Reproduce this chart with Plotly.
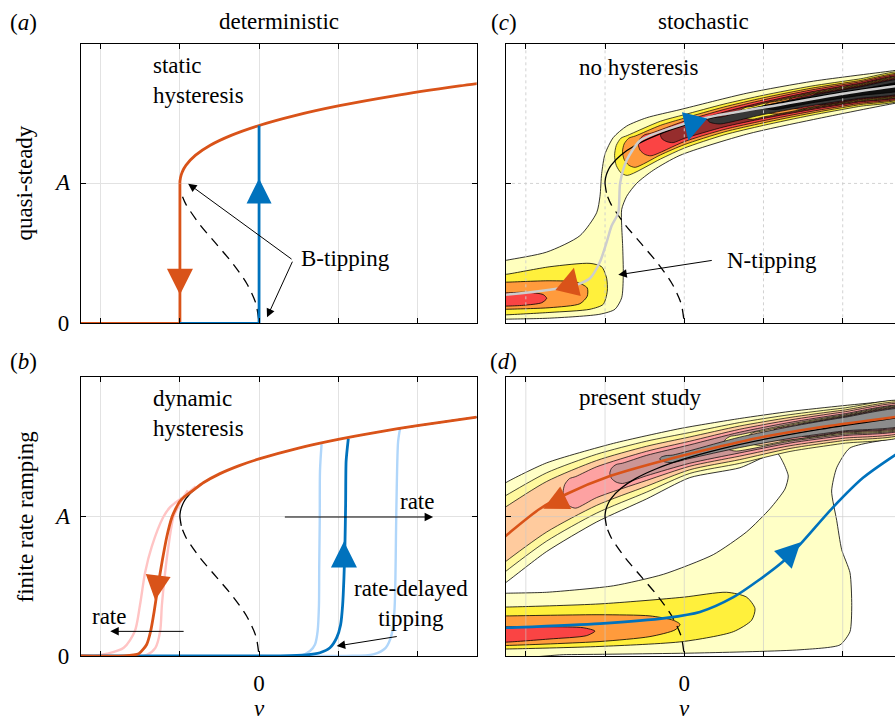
import numpy as np
import plotly.graph_objects as go

FONT = "Liberation Serif"
FS = 23
ORANGE = "#D95319"
BLUE = "#0072BD"
PINK = "rgb(255,196,196)"
LBLUE = "rgb(176,214,250)"
PATHGREY = "rgb(205,205,205)"

# ---------------- axes / ticks ----------------
X_LEFT = [-2.25, 2.75]
X_RIGHT = [-2.25, 2.66]
Y_RANGE = [0, 1.4142]
grid_v = [-2, -1, 0, 1, 2]
A_tick = 0.707

stable_A = [0.66, 0.707, 0.72, 0.75, 0.78, 0.8, 0.85, 0.9, 0.95, 1.0, 1.05, 1.1, 1.15, 1.2, 1.212]
stable_v = [-0.983, -1.0, -0.999, -0.984, -0.953, -0.922, -0.802, -0.616, -0.352, 0.0, 0.452, 1.016, 1.706, 2.534, 2.756]
unstable_A = [0.64, 0.6, 0.5, 0.4, 0.3, 0.2, 0.1, 0.0]
unstable_v = [-0.967, -0.922, -0.75, -0.538, -0.328, -0.154, -0.04, 0.0]

# ---------------- panel (b) trajectories ----------------
orange_b_v = [2.75, 2.0, 1.5, 1.0, 0.5, 0.0, -0.25, -0.5, -0.7, -0.85, -0.95, -1.0, -1.05, -1.10, -1.165, -1.22, -1.276, -1.326, -1.37, -1.42, -1.52, -1.71, -2.25]
orange_b_A = [1.212, 1.169, 1.136, 1.099, 1.055, 1.0, 0.966, 0.924, 0.88, 0.835, 0.805, 0.785, 0.75, 0.705, 0.606, 0.49, 0.357, 0.224, 0.125, 0.058, 0.011, 0.0, 0.0]
pink1_v = [-0.8, -0.95, -1.05, -1.124, -1.21, -1.355, -1.44, -1.505, -1.57, -1.71, -1.92, -2.09, -2.25]
pink1_A = [0.86, 0.81, 0.78, 0.755, 0.705, 0.556, 0.423, 0.257, 0.125, 0.041, 0.011, 0.0, 0.0]
pink2_v = [-0.9, -0.98, -1.03, -1.082, -1.145, -1.187, -1.228, -1.25, -1.31, -1.418, -1.49, -2.25]
pink2_A = [0.84, 0.79, 0.75, 0.705, 0.556, 0.423, 0.257, 0.125, 0.041, 0.005, 0.0, 0.0]
blue_b_v = [-2.25, 0.265, 0.60, 0.77, 0.896, 0.98, 1.03, 1.056, 1.072, 1.085, 1.094, 1.10, 1.128]
blue_b_A = [0.0, 0.0, 0.005, 0.016, 0.041, 0.091, 0.157, 0.257, 0.39, 0.556, 0.772, 0.988, 1.103]
lblue1_v = [0.0, 0.52, 0.644, 0.707, 0.74, 0.757, 0.76, 0.767, 0.77, 0.79]
lblue1_A = [0.0, 0.0, 0.025, 0.058, 0.125, 0.257, 0.44, 0.689, 0.938, 1.075]
lblue2_v = [0.5, 1.10, 1.443, 1.6, 1.675, 1.71, 1.723, 1.73, 1.74, 1.757, 1.78]
lblue2_A = [0.0, 0.0, 0.008, 0.041, 0.108, 0.224, 0.39, 0.606, 0.855, 1.087, 1.15]

# ---------------- panel (c) probability contours ----------------
p0c_v = [2.8, 2.66, 1.63, 0.79, -0.054, -0.475, -0.727, -0.896, -1.0, -1.043, -1.064, -1.106, -1.317, -1.737, -2.24, -2.35,
         -2.35, -2.24, -1.70, -1.064, -0.875, -0.79, -0.77, -0.778, -0.79, -0.79, -0.727, -0.6, -0.39, -0.054, 0.79, 1.63, 2.66, 2.8, 2.8]
p0c_A = [1.287, 1.278, 1.224, 1.163, 1.08, 1.039, 0.997, 0.939, 0.856, 0.757, 0.642, 0.559, 0.443, 0.36, 0.319, 0.31,
         0.02, 0.021, 0.026, 0.046, 0.071, 0.129, 0.245, 0.393, 0.493, 0.576, 0.642, 0.708, 0.774, 0.849, 0.956, 1.03, 1.112, 1.12, 1.287]
blobcY_v = [-2.35, -2.242, -1.696, -1.19, -1.043, -0.98, -0.972, -1.023, -1.19, -1.696, -2.242, -2.35, -2.35]
blobcY_A = [0.245, 0.248, 0.286, 0.303, 0.286, 0.228, 0.162, 0.096, 0.071, 0.055, 0.043, 0.042, 0.245]
blobcO_v = [-2.35, -2.242, -1.696, -1.359, -1.225, -1.225, -1.317, -1.696, -2.242, -2.35, -2.35]
blobcO_A = [0.208, 0.208, 0.215, 0.208, 0.179, 0.137, 0.099, 0.079, 0.071, 0.07, 0.208]
blobcR_v = [-2.35, -2.242, -1.99, -1.78, -1.737, -1.80, -2.03, -2.242, -2.35, -2.35]
blobcR_A = [0.154, 0.154, 0.157, 0.145, 0.126, 0.104, 0.091, 0.087, 0.087, 0.154]
bandc_grid = [-0.95, -0.8, -0.6, -0.3, 0.0, 0.5, 1.0, 1.6, 2.2, 2.8]
bandc_top = [0.91, 0.975, 1.02, 1.057, 1.085, 1.135, 1.178, 1.222, 1.255, 1.287]
bandc_mid = [0.77, 0.815, 0.865, 0.926, 0.97, 1.03, 1.077, 1.125, 1.165, 1.20]
bandc_bot = [0.68, 0.70, 0.735, 0.795, 0.855, 0.925, 0.975, 1.028, 1.075, 1.12]
pathc_v = [-2.3, -2.24, -1.696, -1.36, -1.19, -1.064, -0.98, -0.917, -0.833, -0.81, -0.727, -0.56, -0.22, 0.28, 1.21, 2.0, 2.7]
pathc_A = [0.143, 0.145, 0.17, 0.195, 0.228, 0.311, 0.41, 0.493, 0.559, 0.708, 0.824, 0.923, 0.98, 1.039, 1.105, 1.16, 1.2]

# ---------------- panel (d) probability contours ----------------
lyd_v = [-2.35, -2.25, -1.737, -0.893, -0.054, 0.7, 1.335, 2.0, 2.66, 2.8,
         2.8, 2.66, 2.09, 1.924, 1.86, 1.924, 1.987, 2.092, 2.114, 2.092, 1.966, 1.461, 0.198, -1.485, -2.35,
         -2.35, -2.25, -1.737, -0.893, -0.265, 0.366, 0.788, 1.082, 1.271, 1.313, 1.25, 1.167,
         0.703, 0.07, -0.475, -1.106, -1.737, -2.25, -2.35, -2.35]
lyd_A = [0.85, 0.88, 0.98, 1.079, 1.154, 1.205, 1.241, 1.27, 1.296, 1.30,
         1.11, 1.104, 1.055, 0.955, 0.837, 0.688, 0.539, 0.422, 0.256, 0.123, 0.056, 0.031, 0.015, 0.0065, 0.006,
         0.316, 0.318, 0.323, 0.356, 0.414, 0.514, 0.63, 0.747, 0.847, 0.913, 0.98, 1.03,
         0.955, 0.905, 0.797, 0.68, 0.53, 0.373, 0.345, 0.85]
blobdY_v = [-2.35, -2.24, -1.064, -0.013, 0.535, 0.788, 0.893, 0.85, 0.62, -0.013, -1.064, -2.24, -2.35, -2.35]
blobdY_A = [0.248, 0.248, 0.264, 0.298, 0.323, 0.298, 0.24, 0.181, 0.123, 0.073, 0.048, 0.035, 0.035, 0.248]
blobdO_v = [-2.35, -2.24, -1.064, -0.433, -0.139, -0.054, -0.117, -0.433, -1.064, -2.24, -2.35, -2.35]
blobdO_A = [0.203, 0.203, 0.209, 0.203, 0.181, 0.16, 0.132, 0.098, 0.073, 0.053, 0.053, 0.203]
blobdR_v = [-2.35, -2.24, -1.696, -1.275, -1.128, -1.232, -1.696, -2.24, -2.35, -2.35]
blobdR_A = [0.148, 0.148, 0.148, 0.143, 0.126, 0.103, 0.086, 0.07, 0.07, 0.148]
bandd_grid = [-2.6, -2.25, -1.737, -1.106, -0.475, 0.07, 0.7, 1.335, 2.0, 2.8]
bandd_top = [0.81, 0.88, 0.98, 1.06, 1.12, 1.16, 1.205, 1.241, 1.27, 1.30]
bandd_mid = [0.50, 0.61, 0.76, 0.89, 0.97, 1.02, 1.085, 1.135, 1.18, 1.22]
bandd_bot = [0.25, 0.373, 0.53, 0.68, 0.797, 0.905, 0.955, 1.02, 1.062, 1.11]
pathd_blue_v = [-2.3, -2.24, -1.064, -0.222, 0.198, 0.62, 0.956, 1.25, 1.46, 1.88, 2.26, 2.7]
pathd_blue_A = [0.142, 0.143, 0.164, 0.193, 0.223, 0.298, 0.389, 0.48, 0.565, 0.755, 0.905, 1.03]
pathd_or_v = [2.7, 1.755, 0.914, 0.45, -0.222, -0.938, -1.485, -1.822, -2.24, -2.3]
pathd_or_A = [1.215, 1.163, 1.105, 1.063, 0.996, 0.913, 0.822, 0.747, 0.614, 0.594]

# contour colour levels
C_LY = "rgb(255,255,190)"
C_Y = "rgb(255,240,60)"
C_O = "rgb(255,155,60)"
C_R = "rgb(250,68,68)"
C_DR = "rgb(150,45,45)"
C_K = "rgb(55,55,55)"
C_K2 = "rgb(15,15,15)"
D_LY = "rgb(255,255,198)"
D_Y = "rgb(255,248,158)"
D_O = "rgb(255,203,158)"
D_R = "rgb(253,162,162)"
D_DR = "rgb(203,150,150)"
D_K = "rgb(140,140,140)"

# (start v, fraction at start, fraction at right end, colour)
levels_c = [(-0.88, 0.72, 0.78, C_Y), (-0.78, 0.55, 0.70, C_O), (-0.58, 0.41, 0.64, C_R),
            (-0.30, 0.28, 0.58, C_DR), (0.7, 0.30, 0.53, C_Y), (1.0, 0.30, 0.49, C_O),
            (1.3, 0.30, 0.45, C_R), (1.6, 0.30, 0.41, C_DR), (0.3, 0.15, 0.37, C_K), (1.0, 0.08, 0.20, C_K2)]
levels_d = [(-2.6, 0.75, 0.88, D_Y), (-2.6, 0.53, 0.78, D_O), (-1.53, 0.38, 0.70, D_R),
            (-0.94, 0.28, 0.60, D_DR), (0.5, 0.30, 0.56, D_Y), (0.8, 0.28, 0.52, D_O),
            (1.1, 0.28, 0.48, D_R), (1.4, 0.30, 0.44, D_DR), (-0.31, 0.12, 0.40, D_K)]

fig = go.Figure()


def add_line(xa, x, y, color, width, dash=None, shape="spline", smoothing=0.8):
    ax = "x" if xa == 1 else "x%d" % xa
    ay = "y" if xa == 1 else "y%d" % xa
    fig.add_trace(go.Scatter(x=x, y=y, mode="lines", xaxis=ax, yaxis=ay,
                             line=dict(color=color, width=width, dash=dash, shape=shape,
                                       smoothing=smoothing if shape == "spline" else None),
                             hoverinfo="skip", showlegend=False))


def add_poly(xa, x, y, fill, lw=0.8, smoothing=0.7):
    ax = "x" if xa == 1 else "x%d" % xa
    ay = "y" if xa == 1 else "y%d" % xa
    fig.add_trace(go.Scatter(x=x, y=y, mode="lines", fill="toself", fillcolor=fill, xaxis=ax, yaxis=ay,
                             line=dict(color="black", width=lw, shape="spline", smoothing=smoothing),
                             hoverinfo="skip", showlegend=False))


def band_level(grid, top, mid, bot, vs, fs, fe):
    g = list(grid)
    dv0 = 0.16
    pts = np.array([vs + dv0] + [x for x in g if x > vs + dv0 + 0.12])
    f = fs + (fe - fs) * (pts - vs) / (g[-1] - vs)
    T = np.interp(pts, g, top)
    M = np.interp(pts, g, mid)
    B = np.interp(pts, g, bot)
    up = M + f * (T - M)
    lo = M - f * (M - B)
    cm = 0.5 * (up[0] + lo[0])
    h = 0.5 * (up[0] - lo[0])
    cap_v, cap_A = [], []
    for th in [120, 150, 180, 210, 240]:
        t = np.radians(th)
        cap_v.append(pts[0] + dv0 * np.cos(t))
        cap_A.append(cm + h * np.sin(t))
    xs = list(pts[::-1]) + cap_v + list(pts)
    ys = list(up[::-1]) + cap_A + list(lo)
    xs.append(xs[0])
    ys.append(ys[0])
    return xs, ys


def add_marker(xa, v, A, symbol, color, size, angle=0):
    ax = "x" if xa == 1 else "x%d" % xa
    ay = "y" if xa == 1 else "y%d" % xa
    fig.add_trace(go.Scatter(x=[v], y=[A], mode="markers", xaxis=ax, yaxis=ay,
                             marker=dict(symbol=symbol, size=size, angle=angle, color=color,
                                         line=dict(width=0)),
                             hoverinfo="skip", showlegend=False))


def overlay_grid(xa, xr, dash, color):
    for v in grid_v:
        add_line(xa, [v, v], Y_RANGE, color, 1, dash=dash, shape="linear")
    add_line(xa, xr, [A_tick, A_tick], color, 1, dash=dash, shape="linear")


st_or_v = stable_v[1:]
st_or_A = stable_A[1:]

# ================= panel (a) : axis 1 =================
add_line(1, unstable_v, unstable_A, "black", 1.3, dash="10px,7px")
add_line(1, st_or_v, st_or_A, ORANGE, 2.8)
add_line(1, [-1.0, -1.0, -2.3], [0.707, 0.0, 0.0], ORANGE, 2.8, shape="linear")
add_line(1, [-1.0, 0.0, 0.0], [0.0, 0.0, 1.0], BLUE, 2.8, shape="linear")
add_marker(1, -1.0, 0.145, "arrow-down", ORANGE, 26)
add_marker(1, 0.0, 0.732, "arrow-up", BLUE, 25)

# ================= panel (b) : axis 3 =================
add_line(3, pink1_v, pink1_A, PINK, 2.4)
add_line(3, pink2_v, pink2_A, PINK, 2.4)
add_line(3, lblue1_v, lblue1_A, LBLUE, 2.4)
add_line(3, lblue2_v, lblue2_A, LBLUE, 2.4)
add_line(3, stable_v, stable_A, "black", 1.3)
add_line(3, unstable_v, unstable_A, "black", 1.3, dash="10px,7px")
add_line(3, blue_b_v, blue_b_A, BLUE, 2.8, smoothing=0.6)
add_line(3, orange_b_v, orange_b_A, ORANGE, 2.8, smoothing=0.6)
add_marker(3, -1.313, 0.282, "arrow-down", ORANGE, 25, angle=7)
add_marker(3, 1.073, 0.581, "arrow-up", BLUE, 26)

# ================= panel (c) : axis 2 =================
add_poly(2, p0c_v, p0c_A, C_LY)
add_poly(2, blobcY_v, blobcY_A, C_Y)
add_poly(2, blobcO_v, blobcO_A, C_O)
add_poly(2, blobcR_v, blobcR_A, C_R)
for vs, fs, fe, col in levels_c:
    xs, ys = band_level(bandc_grid, bandc_top, bandc_mid, bandc_bot, vs, fs, fe)
    add_poly(2, xs, ys, col, lw=0.7)
overlay_grid(2, X_RIGHT, "dot", "rgba(205,205,205,0.9)")
add_line(2, stable_v, stable_A, "black", 1.3)
add_line(2, unstable_v, unstable_A, "black", 1.3, dash="10px,7px")
add_line(2, pathc_v, pathc_A, PATHGREY, 2.5, smoothing=0.7)
add_marker(2, -1.393, 0.281, "arrow-up", ORANGE, 26, angle=13)
add_marker(2, 0.051, 0.923, "arrow-down", BLUE, 26, angle=14)

# ================= panel (d) : axis 4 =================
add_poly(4, lyd_v, lyd_A, D_LY, smoothing=0.6)
for vs, fs, fe, col in levels_d:
    xs, ys = band_level(bandd_grid, bandd_top, bandd_mid, bandd_bot, vs, fs, fe)
    add_poly(4, xs, ys, col, lw=0.7)
add_poly(4, blobdY_v, blobdY_A, C_Y)
add_poly(4, blobdO_v, blobdO_A, C_O)
add_poly(4, blobdR_v, blobdR_A, C_R)
overlay_grid(4, X_RIGHT, None, "rgba(200,200,200,0.6)")
add_line(4, stable_v, stable_A, "black", 1.3)
add_line(4, unstable_v, unstable_A, "black", 1.3, dash="10px,7px")
add_line(4, pathd_or_v, pathd_or_A, ORANGE, 2.6)
add_line(4, pathd_blue_v, pathd_blue_A, BLUE, 2.6)
add_marker(4, -1.78, 0.747, "arrow-left", ORANGE, 25, angle=-26)
add_marker(4, 1.468, 0.577, "arrow-up", BLUE, 25, angle=45)

# ================= layout =================
DX_L = [0.0905, 0.5326]
DX_R = [0.5654, 1.0]
DY_T = [0.5401, 0.9381]
DY_B = [0.0670, 0.4633]
tfont = dict(family=FONT, size=FS, color="black")


def xaxis(dom, rng, anchor, labels, grid):
    return dict(domain=dom, range=rng, anchor=anchor, showline=True, linecolor="black", linewidth=1.2,
                mirror="ticks", ticks="inside", ticklen=5, tickwidth=1, tickcolor="black",
                tickmode="array", tickvals=grid_v, ticktext=labels, showgrid=grid,
                gridcolor="rgb(226,226,226)", gridwidth=1, zeroline=False, tickfont=tfont,
                fixedrange=True, ticklabelstandoff=6)


def yaxis(dom, anchor, labels, grid, mirror):
    return dict(domain=dom, range=Y_RANGE, anchor=anchor, showline=True, linecolor="black", linewidth=1.2,
                mirror=mirror, ticks="inside", ticklen=5, tickwidth=1, tickcolor="black",
                tickmode="array", tickvals=[0, A_tick], ticktext=labels, showgrid=grid,
                gridcolor="rgb(226,226,226)", gridwidth=1, zeroline=False, tickfont=tfont,
                fixedrange=True, ticklabelstandoff=6)


blank5 = ["", "", "", "", ""]
zero5 = ["", "", "0", "", ""]
fig.update_layout(
    width=895, height=716, margin=dict(l=0, r=0, t=0, b=0),
    paper_bgcolor="white", plot_bgcolor="white", showlegend=False,
    font=dict(family=FONT, size=FS, color="black"),
    xaxis=xaxis(DX_L, X_LEFT, "y", blank5, True),
    yaxis=yaxis(DY_T, "x", ["0", ""], True, "ticks"),
    xaxis2=xaxis(DX_R, X_RIGHT, "y2", blank5, False),
    yaxis2=yaxis(DY_T, "x2", ["", ""], False, False),
    xaxis3=xaxis(DX_L, X_LEFT, "y3", zero5, True),
    yaxis3=yaxis(DY_B, "x3", ["0", ""], True, "ticks"),
    xaxis4=xaxis(DX_R, X_RIGHT, "y4", zero5, False),
    yaxis4=yaxis(DY_B, "x4", ["", ""], False, False),
)

ann = []


def ptext(x, y, text, angle=0, xanchor="center", size=FS):
    ann.append(dict(x=x / 895.0, y=1 - y / 716.0, xref="paper", yref="paper", text=text, showarrow=False,
                    textangle=angle, xanchor=xanchor, yanchor="middle",
                    font=dict(family=FONT, size=size, color="black")))


def dtext(ax, v, A, text, xanchor="left", align="left"):
    ann.append(dict(x=v, y=A, xref=ax, yref=ax.replace("x", "y"), text=text, showarrow=False,
                    xanchor=xanchor, yanchor="middle", align=align, font=tfont))


def darrow(ax, v_tail, A_tail, v_head, A_head):
    ann.append(dict(x=v_head, y=A_head, ax=v_tail, ay=A_tail, xref=ax, yref=ax.replace("x", "y"),
                    axref=ax, ayref=ax.replace("x", "y"), text="", showarrow=True, arrowhead=2,
                    arrowsize=1.7, arrowwidth=1.0, arrowcolor="black", standoff=0))


ptext(23, 23, "(<i>a</i>)")
ptext(23, 368, "(<i>b</i>)")
ptext(503.5, 23, "(<i>c</i>)")
ptext(503.5, 368, "(<i>d</i>)")
ptext(278.8, 22, "deterministic")
ptext(703.7, 22, "stochastic")
ptext(25, 187, "quasi-steady", angle=-90)
ptext(25, 526, "finite rate ramping", angle=-90)
ptext(62.5, 186, "<i>A</i>")
ptext(62.5, 526, "<i>A</i>")
ptext(259.1, 722, "<i>ν</i>")
ptext(684.3, 722, "<i>ν</i>")

dtext("x", -1.37, 1.225, "static<br>hysteresis")
dtext("x", 0.504, 0.329, "B-tipping")
darrow("x", 0.43, 0.319, -0.896, 0.706)
darrow("x", 0.43, 0.319, 0.101, 0.031)

dtext("x3", -1.37, 1.232, "dynamic<br>hysteresis")
dtext("x3", -1.897, 0.202, "rate", xanchor="center")
dtext("x3", 2.0, 0.785, "rate", xanchor="center")
dtext("x3", 1.92, 0.268, "rate-delayed<br>tipping", xanchor="center", align="center")
darrow("x3", -0.934, 0.1245, -1.88, 0.1245)
darrow("x3", 0.307, 0.705, 2.2, 0.705)
darrow("x3", 1.759, 0.0996, 0.981, 0.0498)

dtext("x2", -1.359, 1.295, "no hysteresis")
dtext("x2", 0.514, 0.319, "N-tipping")
darrow("x2", 0.366, 0.319, -0.833, 0.245)

dtext("x4", -1.359, 1.312, "present study")

fig.update_layout(annotations=ann)
fig.write_html("out.html")
